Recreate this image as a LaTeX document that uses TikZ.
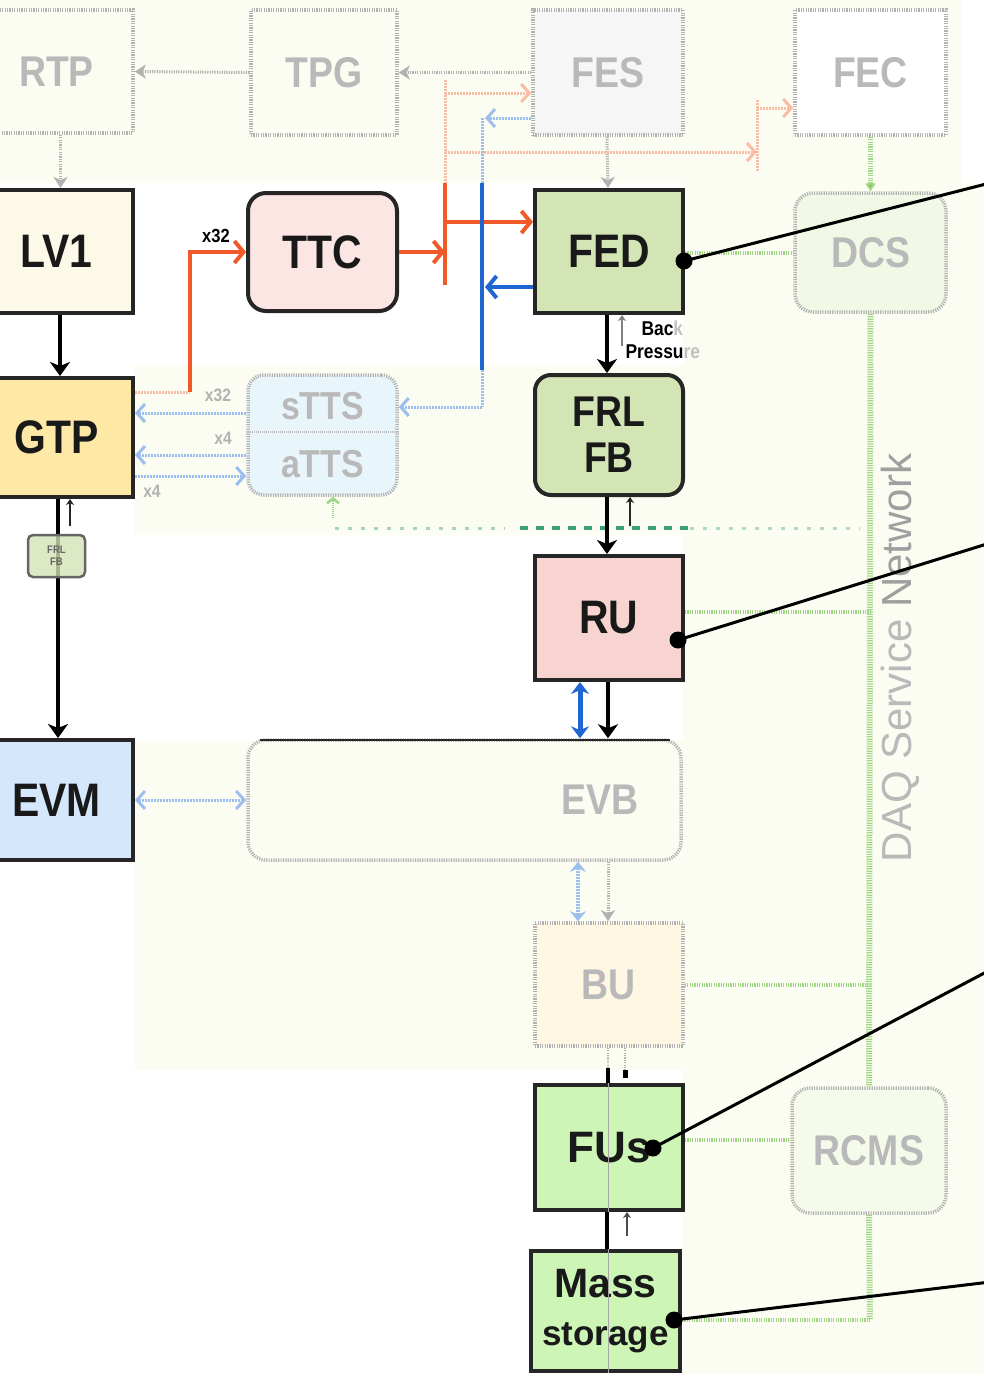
\documentclass[tikz,border=0pt]{standalone}
\usepackage{fontspec}
\setmainfont{Liberation Sans}
\newfontfamily\nsf{Liberation Sans}[FakeStretch=0.87]
\usetikzlibrary{arrows.meta,calc}
\definecolor{ora}{HTML}{F05A28}
\definecolor{oraf}{HTML}{F9BCA4}
\definecolor{blu}{HTML}{1F66D1}
\definecolor{bluf}{HTML}{9DBFF0}
\definecolor{grn}{HTML}{A2D687}
\definecolor{grnd}{HTML}{5DB33C}
\definecolor{teal}{HTML}{3E9E7A}
\definecolor{bgf}{HTML}{FBFDF2}
\definecolor{lvone}{HTML}{FDF9E8}
\definecolor{ttcc}{HTML}{FBE6E3}
\definecolor{fedc}{HTML}{D3E4B5}
\definecolor{gtpc}{HTML}{FDE8A6}
\definecolor{ruc}{HTML}{F7D4CF}
\definecolor{evmc}{HTML}{D5E8FB}
\definecolor{fusc}{HTML}{CDF5B6}
\definecolor{dcsf}{HTML}{F1F8E6}
\definecolor{ttsf}{HTML}{E8F6FC}
\definecolor{buf}{HTML}{FFF7E3}
\definecolor{rcmsf}{HTML}{F5FBEA}
\tikzset{
  hib/.style={draw=black!85, line width=4pt, text=black!90, align=center, inner sep=0pt,
    font=\nsf\bfseries\fontsize{47}{50}\selectfont},
  fab/.style={draw=gray!60, line width=3.5pt, dash pattern=on 1.2pt off 1.2pt, text=gray!55,
    align=center, inner sep=0pt, font=\nsf\bfseries\fontsize{43}{46}\selectfont},
  blk/.style={line width=4pt, black, -{Stealth[length=14pt,width=20pt,inset=4pt]}},
  gra/.style={line width=3pt, gray!60, dash pattern=on 1.2pt off 1.2pt, -{Stealth[length=11pt,width=14pt,inset=3pt]}},
  orr/.style={line width=4pt, ora, -{Straight Barb[length=9pt,width=22pt]}},
  orf/.style={line width=3pt, oraf, dash pattern=on 2pt off 1pt},
  orfa/.style={orf, -{Straight Barb[length=8pt,width=18pt]}},
  bll/.style={line width=4pt, blu, -{Straight Barb[length=9pt,width=22pt]}},
  blf/.style={line width=3pt, bluf, dash pattern=on 2pt off 1pt},
  blfa/.style={blf, -{Straight Barb[length=8pt,width=18pt]}},
  gnet/.style={line width=6pt, grn, dash pattern=on 1.2pt off 1.2pt},
  gnh/.style={line width=4pt, grn, dash pattern=on 1.2pt off 1.2pt},
  upar/.style={line width=2.5pt, black!85, -{Stealth[length=6pt,width=8pt]}},
  callout/.style={line width=3pt, black},
  cdot/.style={circle, fill=black, inner sep=0pt, minimum size=17pt},
  small/.style={font=\nsf\bfseries\fontsize{20}{21}\selectfont}
}
\begin{document}
\begin{tikzpicture}[x=1pt,y=-1pt]
\useasboundingbox (0,0) rectangle (984,1374);
\clip (0,0) rectangle (984,1374);
% faint background areas
\fill[bgf] (0,0) rectangle (962,183);
\fill[bgf] (135,365) rectangle (984,535);
\fill[bgf] (683,183) rectangle (984,1374);
\fill[bgf] (135,740) rectangle (683,1070);

% ---------- nodes ----------
\node[fab, fill=bgf, minimum width=153, minimum height=123] (rtp) at (56.5,71.5) {RTP};
\node[fab, fill=bgf, minimum width=146, minimum height=125] (tpg) at (324,72.5) {TPG};
\node[fab, fill=gray!7, minimum width=150, minimum height=125] (fes) at (608,72.5) {FES};
\node[fab, fill=white, minimum width=151, minimum height=125] (fec) at (870.5,72.5) {FEC};
\node[hib, fill=lvone, minimum width=153, minimum height=123] (lv1) at (56.5,251.5) {LV1};
\node[hib, fill=ttcc, rounded corners=18pt, minimum width=149, minimum height=118] (ttc) at (322.5,252) {TTC};
\node[hib, fill=fedc, minimum width=148, minimum height=123] (fed) at (609,251.5) {FED};
\node[fab, fill=dcsf, rounded corners=18pt, minimum width=151, minimum height=119] (dcs) at (870.5,252.5) {DCS};
\node[hib, fill=gtpc, minimum width=153, minimum height=119] (gtp) at (56.5,437.5) {GTP};
\node[fab, fill=ttsf, rounded corners=16pt, minimum width=149, minimum height=120, font=\nsf\bfseries\fontsize{39}{58}\selectfont] (tts) at (322.5,435) {sTTS\\aTTS};
\node[hib, fill=fedc, rounded corners=16pt, minimum width=148, minimum height=120, font=\nsf\bfseries\fontsize{43}{46}\selectfont] (frl) at (609,435) {FRL\\FB};
\node[hib, fill=ruc, minimum width=148, minimum height=124] (ru) at (609,618) {RU};
\node[hib, fill=evmc, minimum width=153, minimum height=120] (evm) at (56.5,800) {EVM};
\node[fab, fill=bgf, rounded corners=18pt, minimum width=433, minimum height=120] (evb) at (464.5,800) {};
\node[fab, draw=none, fill=none] (evbl) at (600,800) {EVB};
\node[fab, fill=buf, minimum width=148, minimum height=123] (bu) at (609,984.5) {BU};
\node[fab, fill=rcmsf, rounded corners=18pt, minimum width=154, minimum height=125] (rcms) at (869,1150.5) {RCMS};

% divider in sTTS/aTTS
\draw[gray!50, line width=1.5pt, dash pattern=on 1pt off 1pt] (tts.west |- 0,432) -- (tts.east |- 0,432);
% solid top edge of EVB
\draw[black!85, line width=2.5pt] (260,740) -- (670,740);

% ---------- green service network ----------
\coordinate (gA) at (870,612);
\coordinate (gB) at (870,985);
\coordinate (gC) at (870,1320);
\draw[gnet] (dcs.south) -- (rcms.north);
\draw[gnet] (rcms.south) -- (gC);
\draw[gnh] (fed.east |- 0,253) -- (dcs.west |- 0,253);
\draw[gnh] (ru.east |- gA) -- (gA);
\draw[gnh] (bu.east |- gB) -- (gB);
\draw[line width=5pt, grn, dash pattern=on 1.2pt off 1.2pt, -{Triangle[length=8pt,width=10pt,fill=grnd]}] (fec.south) -- (dcs.north);
\node[rotate=90, text=gray!55, font=\fontsize{42}{44}\selectfont] (dsn) at (900,658) {DAQ Service \textcolor{gray!75}{Network}};

% teal dashed line
\coordinate (t1) at (335,528);
\coordinate (t2) at (505,528);
\coordinate (t3) at (520,528);
\coordinate (t4) at (690,528);
\coordinate (t5) at (860,528);
\draw[teal!45, line width=3pt, dash pattern=on 4pt off 9pt] (t1) -- (t2);
\draw[teal, line width=4.5pt, dash pattern=on 8pt off 8pt] (t3) -- (t4);
\draw[teal!40, line width=3pt, dash pattern=on 4pt off 9pt] (t4) -- (t5);
\draw[grn, line width=2.5pt, dash pattern=on 1pt off 1pt, -{Straight Barb[length=5pt,width=12pt]}] (333,518) -- (tts.south -| 333,0);

% ---------- gray faint connectors ----------
\draw[gra] (tpg.west) -- (rtp.east);
\draw[gra] (fes.west |- tpg.east) -- (tpg.east);
\draw[gra] ([xshift=4pt]rtp.south) -- ([xshift=4pt]lv1.north);
\draw[gra] ([xshift=-1pt]fes.south) -- ([xshift=-1pt]fed.north);

% ---------- black data path ----------
\draw[blk] ([xshift=3.5pt]lv1.south) -- ([xshift=3.5pt]gtp.north);
\draw[blk] ([xshift=1.5pt]gtp.south) -- ([xshift=1.5pt]evm.north);
\node[draw=black!60, line width=2.5pt, fill=fedc, fill opacity=0.8, text opacity=1, rounded corners=5pt,
  minimum width=57, minimum height=42, inner sep=0pt, align=center, text=black!60,
  font=\nsf\bfseries\fontsize{11}{12}\selectfont] (sfrl) at (56.5,556) {FRL\\FB};
\draw[upar] (70,526) -- (gtp.south -| 70,0);
\draw[blk] ([xshift=-2pt]fed.south) -- ([xshift=-2pt]frl.north);
\draw[line width=2.5pt, gray, -{Stealth[length=6pt,width=8pt]}] (622,346) -- (fed.south -| 622,0);
\node[small, anchor=west] (bp1) at (638,328) {Bac\textcolor{gray!50}{k}};
\node[small, anchor=west] (bp2) at (622,352) {Pressu\textcolor{gray!50}{re}};
\draw[blk] ([xshift=-2pt]frl.south) -- ([xshift=-2pt]ru.north);
\draw[upar] (630,526) -- (frl.south -| 630,0);
\draw[blk] ([xshift=-1pt]ru.south) -- ([xshift=-1pt]ru.south |- evb.north);
\draw[line width=5pt, blu, {Stealth[length=12pt,width=18pt]}-{Stealth[length=12pt,width=18pt]}] ([xshift=-29pt]ru.south) -- ([xshift=-29pt]ru.south |- evb.north);
\draw[gra] (evb.south -| 608,0) -- (bu.north -| 608,0);
\draw[line width=3.5pt, bluf, dash pattern=on 2pt off 1pt, {Stealth[length=10pt,width=16pt]}-{Stealth[length=10pt,width=16pt]}] (evb.south -| 578,0) -- (bu.north -| 578,0);
\draw[line width=2.5pt, gray!60, dash pattern=on 1.2pt off 1.2pt] (bu.south -| 608,0) -- (608,1068);
\node[hib, fill=fusc, minimum width=148, minimum height=125, font=\bfseries\fontsize{44}{46}\selectfont] (fus) at (609,1147.5) {FUs};
\draw[gnh] (fus.east |- 0,1140) -- (rcms.west |- 0,1140);
\draw[line width=4pt, black] (608,1068) -- (fus.north -| 608,0);
\draw[line width=2.5pt, gray!60, dash pattern=on 1.2pt off 1.2pt] (bu.south -| 625,0) -- (625,1070);
\draw[line width=5pt, black] (625,1070) -- (625,1078);
\node[hib, fill=fusc, minimum width=149, minimum height=120, font=\bfseries\fontsize{35}{48}\selectfont] (mass) at (605.5,1311) {{\fontsize{41}{44}\selectfont Mass}\\storage};
\draw[line width=4pt, black] (fus.south -| 607,0) -- (mass.north -| 607,0);
\draw[line width=1pt, black!35] (fus.north -| 608,0) -- (fus.south -| 608,0);
\draw[line width=1pt, black!35] (mass.north -| 608,0) -- (mass.south -| 608,0);
\draw[upar, black!70] (627,1236) -- (fus.south -| 627,0);
\draw[gnh] (mass.east |- gC) -- (gC);

% ---------- orange TTC path ----------
\coordinate (oG) at (190,392);
\coordinate (oC) at (190,252);
\coordinate (obT) at (445,183);
\coordinate (obB) at (445,285);
\coordinate (obU) at (445,80);
\coordinate (oF) at (445,222);
\coordinate (oS) at (445,93);
\coordinate (oL) at (445,152);
\coordinate (oR) at (757,152);
\coordinate (oRT) at (757,100);
\coordinate (oRB) at (757,172);
\coordinate (oE) at (757,108);
\draw[orf] (gtp.east |- oG) -- (oG);
\draw[orr] (oG) -- (oC) -- (ttc.west);
\node[font=\nsf\bfseries\fontsize{19}{20}\selectfont] (x32a) at (216,236) {x32};
\draw[orr] (ttc.east) -- (ttc.east -| obT);
\draw[line width=4pt, ora] (obT) -- (obB);
\draw[orf] (obU) -- (obT);
\draw[orr] (oF) -- (oF -| fed.west);
\draw[orfa] (oS) -- (oS -| fes.west);
\draw[orfa] (oL) -- (oR);
\draw[orf] (oRT) -- (oRB);
\draw[orfa] (oE) -- (oE -| fec.west);

% ---------- blue TTS path ----------
\coordinate (bT) at (482,183);
\coordinate (bB) at (482,370);
\coordinate (bU) at (482,118);
\coordinate (bK) at (482,407);
\coordinate (bF) at (482,287);
\draw[line width=4pt, blu] (bT) -- (bB);
\draw[blf] (bU) -- (bT);
\draw[blf] (bB) -- (bK);
\draw[blfa] (bK) -- (bK -| tts.east);
\draw[blfa] (fes.west |- bU) -- ([xshift=3pt]bU);
\draw[bll] (fed.west |- bF) -- ([xshift=3pt]bF);
\draw[blfa] (tts.west |- 0,413) -- (gtp.east |- 0,413);
\draw[blfa] (tts.west |- 0,455) -- (gtp.east |- 0,455);
\draw[blfa] (gtp.east |- 0,476) -- (tts.west |- 0,476);
\draw[line width=3pt, bluf, dash pattern=on 2pt off 1pt, {Straight Barb[length=8pt,width=18pt]}-{Straight Barb[length=8pt,width=18pt]}] (evm.east) -- (evb.west);
\node[text=gray!60, font=\nsf\bfseries\fontsize{18}{19}\selectfont] (x32b) at (218,395) {x32};
\node[text=gray!60, font=\nsf\bfseries\fontsize{18}{19}\selectfont] (x4a) at (223,438) {x4};
\node[text=gray!60, font=\nsf\bfseries\fontsize{18}{19}\selectfont] (x4b) at (152,491) {x4};

% ---------- callouts ----------
\node[cdot] (d1) at (684,261) {};
\node[cdot] (d2) at (678,640) {};
\node[cdot] (d3) at (653,1148) {};
\node[cdot] (d4) at (674,1320) {};
\coordinate (e1) at (990,183);
\coordinate (e2) at (990,543);
\coordinate (e3) at (990,970);
\coordinate (e4) at (990,1282);
\draw[callout] (e1) -- (d1.center);
\draw[callout] (e2) -- (d2.center);
\draw[callout] (e3) -- (d3.center);
\draw[callout] (e4) -- (d4.center);
\end{tikzpicture}
\end{document}
